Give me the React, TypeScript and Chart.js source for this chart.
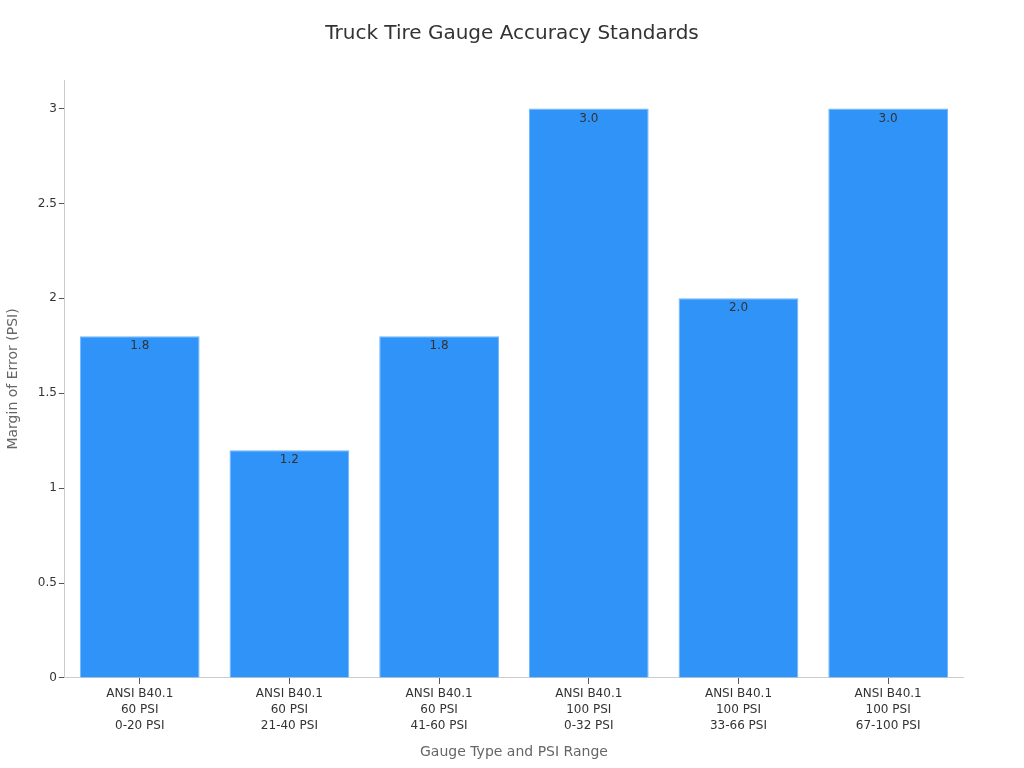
import { Chart, registerables } from 'chart.js'
import { useEffect, useRef } from 'react'

Chart.register(...registerables)

const TITLE = 'Truck Tire Gauge Accuracy Standards'
const CATEGORIES = [
  ['ANSI B40.1', '60 PSI', '0-20 PSI'],
  ['ANSI B40.1', '60 PSI', '21-40 PSI'],
  ['ANSI B40.1', '60 PSI', '41-60 PSI'],
  ['ANSI B40.1', '100 PSI', '0-32 PSI'],
  ['ANSI B40.1', '100 PSI', '33-66 PSI'],
  ['ANSI B40.1', '100 PSI', '67-100 PSI'],
]
const ERROR_MARGIN = [1.8, 1.2, 1.8, 3.0, 2.0, 3.0]
const Y_TICKS = [0, 0.5, 1, 1.5, 2, 2.5, 3]

const FONT = "'DejaVu Sans', sans-serif"

// values drawn just inside the top of each bar, title centred on the whole canvas
const barLabels = {
  id: 'barLabels',
  afterDatasetsDraw(chart: Chart) {
    const ctx = chart.ctx
    const meta = chart.getDatasetMeta(0)
    ctx.save()
    ctx.font = `12px ${FONT}`
    ctx.fillStyle = '#333333'
    ctx.textAlign = 'center'
    ctx.textBaseline = 'middle'
    meta.data.forEach((bar: any, i) => {
      ctx.fillText(ERROR_MARGIN[i].toFixed(1), bar.x, bar.y + 10)
    })
    ctx.font = `20px ${FONT}`
    ctx.fillText(TITLE, chart.width / 2, 34)
    ctx.restore()
  },
}

export default function App() {
  const canvasRef = useRef<HTMLCanvasElement>(null)
  const chartRef = useRef<Chart | null>(null)

  useEffect(() => {
    document.body.style.margin = '0'
    if (!canvasRef.current) return
    if (chartRef.current) chartRef.current.destroy()

    chartRef.current = new Chart(canvasRef.current, {
      type: 'bar',
      data: {
        labels: CATEGORIES,
        datasets: [{
          label: 'Margin of Error (PSI)',
          data: ERROR_MARGIN,
          backgroundColor: '#2f93f8',
          borderColor: '#6fb6ff',
          borderWidth: 1,
          categoryPercentage: 1,
          barPercentage: 0.8,
        }],
      },
      options: {
        animation: false,
        responsive: true,
        maintainAspectRatio: false,
        layout: { padding: { top: 80, right: 61, bottom: 7, left: 5 } },
        plugins: {
          legend: { display: false },
          tooltip: { enabled: false },
          title: { display: false },
        },
        scales: {
          x: {
            grid: { offset: false, drawOnChartArea: false, drawTicks: true, tickLength: 6, color: '#555555' },
            border: { color: '#cccccc' },
            ticks: { color: '#333333', font: { family: FONT, size: 12, lineHeight: 1.34 }, maxRotation: 0, padding: 2 },
            title: {
              display: true,
              text: 'Gauge Type and PSI Range',
              color: '#666666',
              font: { family: FONT, size: 14 },
              padding: { top: 8, bottom: 0 },
            },
          },
          y: {
            min: 0,
            max: 3.15,
            afterBuildTicks: (axis: any) => { axis.ticks = Y_TICKS.map(v => ({ value: v })) },
            grid: { drawOnChartArea: false, drawTicks: true, tickLength: 6, color: '#555555' },
            border: { color: '#cccccc' },
            ticks: { color: '#333333', font: { family: FONT, size: 12 }, padding: 2, callback: v => String(v) },
            title: {
              display: true,
              text: 'Margin of Error (PSI)',
              color: '#666666',
              font: { family: FONT, size: 14 },
              padding: { top: 0, bottom: 14 },
            },
          },
        },
      },
      plugins: [barLabels],
    })
    return () => { if (chartRef.current) chartRef.current.destroy() }
  }, [])

  return (
    <div style={{ position: 'fixed', left: 0, top: 0, width: 1024, height: 768, background: '#ffffff' }}>
      <canvas ref={canvasRef} />
    </div>
  )
}
